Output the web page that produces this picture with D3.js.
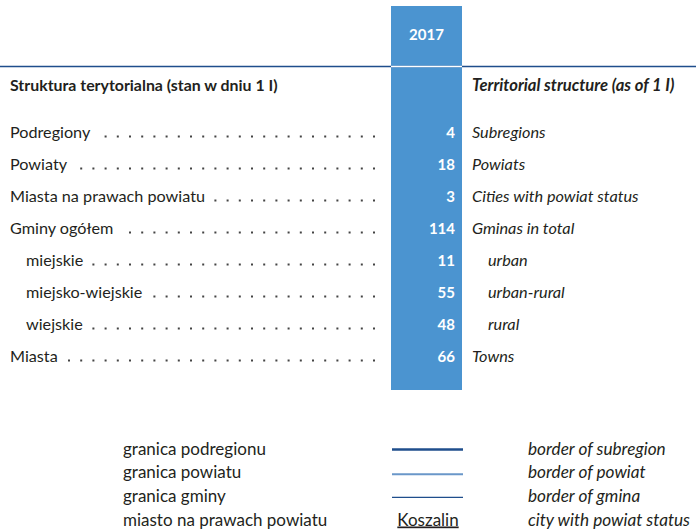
<!DOCTYPE html>
<html>
<head>
<meta charset="utf-8">
<script src="https://cdn.jsdelivr.net/npm/d3@7"></script>
<style>
  body { margin: 0; background: #fff; }
  svg { display: block; font-family: Lato, "Open Sans", sans-serif; }
</style>
</head>
<body>
<script>
// table data
var year = "2017";
var headPl = "Struktura terytorialna (stan w dniu 1 I)";
var headEn = "Territorial structure (as of 1 I)";
var labelsPl = ["Podregiony", "Powiaty", "Miasta na prawach powiatu", "Gminy ogółem",
                "miejskie", "miejsko-wiejskie", "wiejskie", "Miasta"];
var labelsEn = ["Subregions", "Powiats", "Cities with powiat status", "Gminas in total",
                "urban", "urban-rural", "rural", "Towns"];
var values = [4, 18, 3, 114, 11, 55, 48, 66];
var indented = [false, false, false, false, true, true, true, false];

// legend
var legendPl = ["granica podregionu", "granica powiatu", "granica gminy", "miasto na prawach powiatu"];
var legendEn = ["border of subregion", "border of powiat", "border of gmina", "city with powiat status"];
var legendSymbol = ["subregion", "powiat", "gmina", "city"];
var cityExample = "Koszalin";

window.onload = function() {
    var w = 696, h = 530;
    var blue = "#4b94d0", navy = "#1f4e8c", ink = "#231f20";

    var svg = d3.select("body").append("svg")
        .attr("width", w)
        .attr("height", h);

    var rows = labelsPl.map(function(d, i) {
        return { pl: d, en: labelsEn[i], v: values[i], ind: indented[i] };
    });

    // row positions
    var y = d3.scalePoint()
        .domain(d3.range(rows.length))
        .range([132, 356]);

    var colX0 = 391, colX1 = 462;

    // blue year column
    svg.append("rect")
        .attr("x", colX0).attr("y", 6)
        .attr("width", colX1 - colX0).attr("height", 384)
        .attr("fill", blue);

    // header rule (white across the column)
    svg.append("line")
        .attr("x1", 0).attr("x2", w).attr("y1", 66.5).attr("y2", 66.5)
        .attr("stroke", navy).attr("stroke-width", 1.3);
    svg.append("line")
        .attr("x1", colX0).attr("x2", colX1).attr("y1", 66.5).attr("y2", 66.5)
        .attr("stroke", "#fff").attr("stroke-width", 1.5);

    svg.append("text")
        .attr("x", (colX0 + colX1) / 2).attr("y", 40)
        .attr("text-anchor", "middle")
        .attr("fill", "#fff").attr("font-weight", "bold").attr("font-size", 15)
        .text(year);

    svg.append("text")
        .attr("x", 10).attr("y", 91)
        .attr("fill", ink).attr("font-weight", "bold").attr("font-size", 15.9)
        .text(headPl);
    svg.append("text")
        .attr("x", 472).attr("y", 91)
        .attr("fill", ink).attr("font-weight", "bold").attr("font-style", "italic").attr("font-size", 16.6)
        .text(headEn);

    var row = svg.selectAll(".row")
        .data(rows)
        .enter().append("g")
        .attr("class", "row")
        .attr("transform", function(d, i) { return "translate(0," + y(i) + ")"; });

    row.append("text")
        .attr("class", "pl")
        .attr("x", function(d) { return d.ind ? 26 : 10; })
        .attr("y", 5.5)
        .attr("fill", ink).attr("font-size", 16.2)
        .text(function(d) { return d.pl; });

    // leader dots, aligned from the right
    row.each(function(d) {
        var g = d3.select(this);
        var end = g.select("text.pl").node().getComputedTextLength() + (d.ind ? 26 : 10);
        var xs = [];
        for (var x = 374; x > end + 8; x -= 12.2) xs.push(x);
        g.selectAll("rect.dot")
            .data(xs)
            .enter().append("rect")
            .attr("class", "dot")
            .attr("x", function(x) { return x - 1; })
            .attr("y", 3.5)
            .attr("width", 2).attr("height", 2)
            .attr("fill", "#444");
    });

    row.append("text")
        .attr("x", 455).attr("y", 5.5)
        .attr("text-anchor", "end")
        .attr("fill", "#fff").attr("font-weight", "bold").attr("font-size", 15)
        .text(function(d) { return d.v; });

    row.append("text")
        .attr("x", function(d) { return d.ind ? 488 : 472; })
        .attr("y", 5.5)
        .attr("fill", ink).attr("font-style", "italic").attr("font-size", 16.3)
        .text(function(d) { return d.en; });

    // legend
    var ly = d3.scalePoint()
        .domain(d3.range(legendPl.length))
        .range([449, 520]);

    var leg = svg.selectAll(".leg")
        .data(legendPl)
        .enter().append("g")
        .attr("class", "leg")
        .attr("transform", function(d, i) { return "translate(0," + ly(i) + ")"; });

    leg.append("text")
        .attr("x", 123).attr("y", 5.5)
        .attr("fill", ink).attr("font-size", 17)
        .text(function(d) { return d; });

    leg.append("text")
        .attr("x", 528).attr("y", 5.5)
        .attr("fill", ink).attr("font-style", "italic").attr("font-size", 17.2)
        .text(function(d, i) { return legendEn[i]; });

    var lineStyle = {
        subregion: { color: navy, width: 2.6, dy: 0.5 },
        powiat: { color: "#6a97c9", width: 2, dy: 1.5 },
        gmina: { color: navy, width: 1.3, dy: 1 }
    };

    leg.each(function(d, i) {
        var g = d3.select(this);
        var s = lineStyle[legendSymbol[i]];
        if (s) {
            g.append("line")
                .attr("x1", 392).attr("x2", 463)
                .attr("y1", s.dy).attr("y2", s.dy)
                .attr("stroke", s.color).attr("stroke-width", s.width);
        } else {
            g.append("text")
                .attr("x", 428).attr("y", 5.5)
                .attr("text-anchor", "middle")
                .attr("fill", ink).attr("font-size", 17)
                .attr("text-decoration", "underline")
                .text(cityExample);
        }
    });
};
</script>
</body>
</html>
